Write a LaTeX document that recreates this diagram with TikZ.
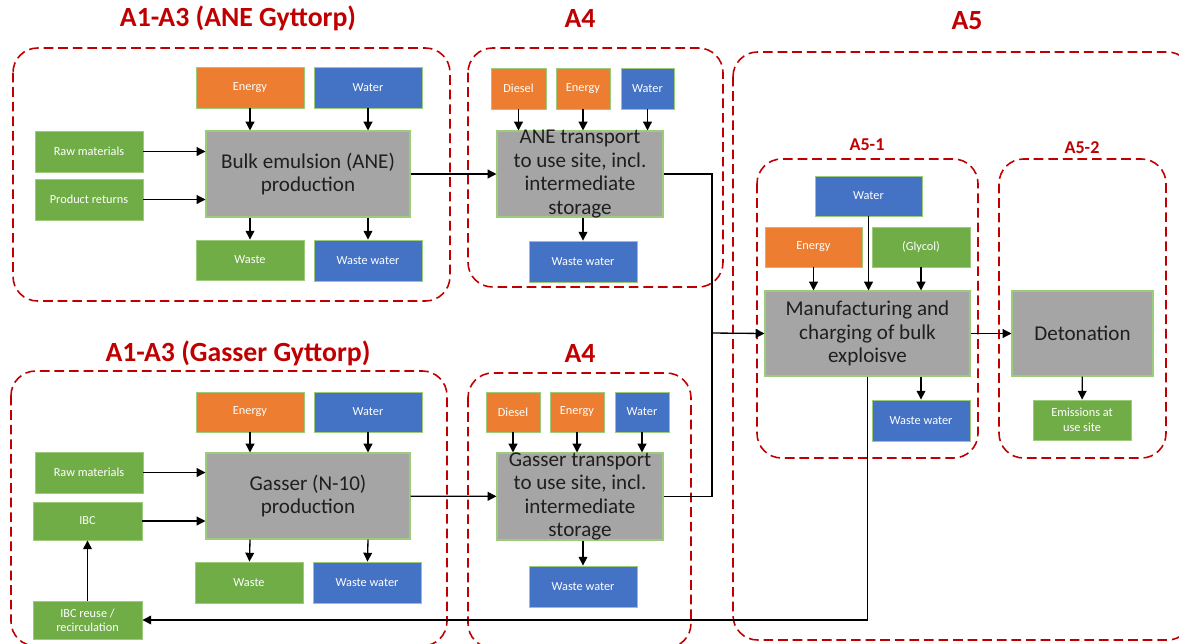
\documentclass[tikz,border=0pt]{standalone}
\usepackage{fontspec}
\setmainfont{Carlito}
\usetikzlibrary{arrows.meta,fit}
\definecolor{redc}{HTML}{C00000}
\definecolor{orgc}{HTML}{ED7D31}
\definecolor{bluc}{HTML}{4472C4}
\definecolor{grnc}{HTML}{70AD47}
\definecolor{grayc}{HTML}{A5A5A5}
\definecolor{bordc}{HTML}{9CCB7C}
\tikzset{
  frame/.style={draw=redc, dash pattern=on 5.5pt off 2.8pt, line width=0.9pt, rounded corners=14pt},
  ttl/.style={text=redc, font=\bfseries\fontsize{15.8}{17}\selectfont, inner sep=0},
  sttl/.style={text=redc, font=\bfseries\fontsize{10.3}{11}\selectfont, inner sep=0},
  sm/.style={inner sep=0, draw=bordc, line width=0.5pt},
  smt/.style={inner sep=0, text=white, font=\fontsize{7}{8}\selectfont, align=center},
  org/.style={sm, fill=orgc},
  blu/.style={sm, fill=bluc},
  grn/.style={sm, fill=grnc},
  big/.style={inner sep=0, fill=grayc, draw=bordc, line width=0.6pt},
  bigt/.style={inner sep=0, font=\fontsize{12}{13.3}\selectfont, align=center, text=black!88},
  arr/.style={-{Triangle[length=5pt,width=5pt]}, line width=0.75pt},
  ln/.style={line width=0.75pt}
}
\newcommand\mybox[4]{\node[#1, fit={#2}] (#3) {};
  \node[smt] (#3-t) at ([yshift=0.1pt]#3.center) {#4};}
\begin{document}
\begin{tikzpicture}[x=0.02cm,y=-0.02cm]
\useasboundingbox (0,0) rectangle (1179,643);
\clip (0,0) rectangle (1179,643);
% frames
\draw[frame] (13,48) rectangle (450,301);
\draw[frame] (468,48) rectangle (723,287);
\draw[frame] (733,52) rectangle (1192,640);
\draw[frame] (11,371) rectangle (447,646);
\draw[frame] (468,373) rectangle (691,648);
\draw[frame] (757,159) rectangle (978,458);
\draw[frame] (999,159) rectangle (1166,458);
% titles
\node[ttl] (t1) at (238,18) {A1-A3 (ANE Gyttorp)};
\node[ttl] (t2) at (580,18) {A4};
\node[ttl] (t3) at (967,21) {A5};
\node[ttl] (t4) at (238,353) {A1-A3 (Gasser Gyttorp)};
\node[ttl] (t5) at (580,353) {A4};
\node[sttl] (t6) at (867,145) {A5-1};
\node[sttl] (t7) at (1082,148) {A5-2};
% A1-A3 ANE
\mybox{org}{(196,67) (304,108)}{enA}{Energy}
\mybox{blu}{(314,67) (422,108)}{waA}{Water}
\mybox{grn}{(35,131) (143,172)}{rawA}{Raw materials}
\mybox{grn}{(35,179) (143,220)}{prA}{Product returns}
\node[big, fit={(206,131) (410,217)}] (bulk) {};
\node[bigt] (bulkT) at (bulk.center) {Bulk emulsion (ANE)\\production};
\mybox{grn}{(196,240) (304,280)}{wsA}{Waste}
\mybox{blu}{(314,240) (422,281)}{wwA}{Waste water}
% A4 ANE
\mybox{org}{(491,68) (546,109)}{diA}{Diesel}
\mybox{org}{(556,68) (610,109)}{en2A}{Energy}
\mybox{blu}{(621,68) (674,109)}{wa2A}{Water}
\node[big, fit={(497,131) (663,217)}] (aneT) {};
\node[bigt] (aneTT) at (aneT.center) {ANE transport\\to use site, incl.\\intermediate\\storage};
\mybox{blu}{(529,241) (637,282)}{ww2A}{Waste water}
% A1-A3 Gasser
\mybox{org}{(196,392) (304,432)}{enG}{Energy}
\mybox{blu}{(314,392) (422,432)}{waG}{Water}
\mybox{grn}{(35,452) (143,493)}{rawG}{Raw materials}
\mybox{grn}{(33,502) (142,540)}{ibc}{IBC}
\node[big, fit={(206,453) (410,539)}] (gas) {};
\node[bigt] (gasT) at (gas.center) {Gasser (N-10)\\production};
\mybox{grn}{(195,562) (303,603)}{wsG}{Waste}
\mybox{blu}{(313,562) (421,603)}{wwG}{Waste water}
\mybox{grn}{(33,601) (142,639)}{ibcR}{IBC reuse /\\recirculation}
% A4 Gasser
\mybox{org}{(486,392) (540,432)}{diG}{Diesel}
\mybox{org}{(550,392) (604,432)}{en2G}{Energy}
\mybox{blu}{(615,392) (669,432)}{wa2G}{Water}
\node[big, fit={(497,453) (663,540)}] (gT) {};
\node[bigt] (gTT) at (gT.center) {Gasser transport\\to use site, incl.\\intermediate\\storage};
\mybox{blu}{(529,566) (637,607)}{ww2G}{Waste water}
% A5-1
\mybox{blu}{(815,176) (922,216)}{wa5}{Water}
\mybox{org}{(765,227) (862,267)}{en5}{Energy}
\mybox{grn}{(872,227) (970,267)}{gly}{(Glycol)}
\node[big, fit={(765,291) (970,376)}] (manu) {};
\node[bigt] (manuT) at (manu.center) {Manufacturing and\\charging of bulk\\exploisve};
\mybox{blu}{(872,400) (970,441)}{ww5}{Waste water}
% A5-2
\node[big, fit={(1012,291) (1153,376)}] (det) {};
\node[bigt] (detT) at (det.center) {Detonation};
\mybox{grn}{(1033,400) (1131,440)}{emi}{Emissions at\\use site}
% connectors
\coordinate (jn) at (712,333);
\draw[arr] (enA) -- (enA |- bulk.north);
\draw[arr] (waA) -- (waA |- bulk.north);
\draw[arr] (rawA) -- (rawA -| bulk.west);
\draw[arr] (prA) -- (prA -| bulk.west);
\draw[arr] (enA |- bulk.south) -- (wsA);
\draw[arr] (waA |- bulk.south) -- (wwA);
\draw[arr] (bulk) -- (aneT);
\draw[arr] (diA) -- (diA |- aneT.north);
\draw[arr] (en2A) -- (en2A |- aneT.north);
\draw[arr] (wa2A) -- (wa2A |- aneT.north);
\draw[arr] (ww2A |- aneT.south) -- (ww2A);
\draw[arr] (enG) -- (enG |- gas.north);
\draw[arr] (waG) -- (waG |- gas.north);
\draw[arr] (rawG) -- (rawG -| gas.west);
\draw[arr] (ibc) -- (ibc -| gas.west);
\draw[arr] (enG |- gas.south) -- (wsG);
\draw[arr] (waG |- gas.south) -- (wwG);
\draw[arr] (gas) -- (gT);
\draw[arr] (diG) -- (diG |- gT.north);
\draw[arr] (en2G) -- (en2G |- gT.north);
\draw[arr] (wa2G) -- (wa2G |- gT.north);
\draw[arr] (ww2G |- gT.south) -- (ww2G);
\draw[arr] (ibcR) -- (ibc);
\draw[ln] (aneT.east) -| (jn);
\draw[ln] (gT.east) -| (jn);
\draw[arr] (jn) -- (manu.west);
\draw[arr] (en5) -- (en5 |- manu.north);
\draw[arr] (wa5) -- (wa5 |- manu.north);
\draw[arr] (gly) -- (gly |- manu.north);
\draw[arr] (ww5 |- manu.south) -- (ww5);
\draw[arr] (manu) -- (det);
\draw[arr] (det) -- (emi);
\draw[arr] (manu.south) |- (ibcR.east);
\end{tikzpicture}
\end{document}
